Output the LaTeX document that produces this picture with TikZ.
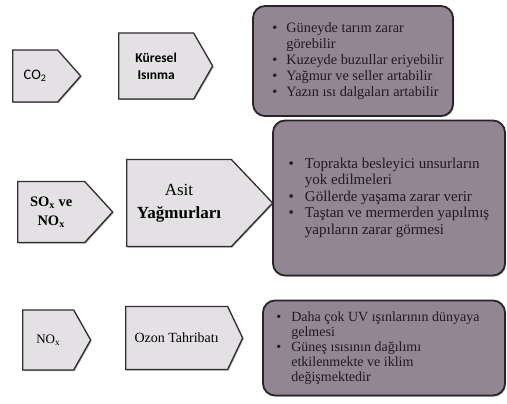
\documentclass[tikz,border=0pt]{standalone}
\usepackage{fontspec}
\setmainfont{Liberation Serif}
\newfontfamily\calib{Carlito}
\usepackage{tikz}
\usetikzlibrary{shapes.symbols,shadows}
\usepackage{xcolor}
\definecolor{tagFill}{RGB}{228,225,228}
\definecolor{tagLine}{RGB}{50,45,50}
\definecolor{noteFill}{RGB}{146,134,146}
\definecolor{noteLine}{RGB}{40,36,40}
\definecolor{noteText}{RGB}{30,26,30}

\tikzset{
  tag/.style={shape=signal, signal to=east, draw=tagLine, line width=1.3pt, fill=tagFill,
    inner sep=0pt, anchor=west, align=center, text=black,
    drop shadow={shadow xshift=1pt, shadow yshift=-1pt, fill=black!70}},
  note/.style={draw=noteLine, line width=1.8pt, fill=noteFill, rounded corners=12pt,
    inner sep=0pt, align=left, text=noteText,
    drop shadow={shadow xshift=1pt, shadow yshift=-1pt, fill=black!70}}
}
\newcommand{\madde}{\textbullet}

\begin{document}
\begin{tikzpicture}[x=1pt, y=-1pt]
        \useasboundingbox (0,0) rectangle (507,404);
        % sol: kaynaklar
        \node[tag, minimum width=68pt, minimum height=52pt, signal pointer angle=97, font=\calib\fontsize{14.5}{16}\selectfont] (co) at (12,76) {CO\textsubscript{2}};
        \node[tag, minimum width=95pt, minimum height=61pt, signal pointer angle=95, font=\bfseries\fontsize{14.5}{19}\selectfont] (sn) at (17,212) {SO\textsubscript{x} ve\\NO\textsubscript{x}};
        \node[tag, minimum width=68pt, minimum height=60pt, signal pointer angle=121, font=\fontsize{13}{15}\selectfont] (no) at (22,340) {NO\textsubscript{x}};
        % orta: sorunlar
        \node[tag, minimum width=94pt, minimum height=66pt, signal pointer angle=120, font=\calib\bfseries\fontsize{13.5}{17}\selectfont] (ki) at (118,66) {Küresel\\Isınma};
        \node[tag, minimum width=146pt, minimum height=87pt, signal pointer angle=93, font=\fontsize{17}{23}\selectfont] (ay) at (126,203) {Asit\\\textbf{Yağmurları}};
        \node[tag, minimum width=117pt, minimum height=63pt, signal pointer angle=129, font=\fontsize{14}{16}\selectfont] (ot) at (125,338) {Ozon Tahribatı};
        % sag: etkiler
        \node[note, minimum width=200pt, minimum height=110pt, font=\fontsize{14.3}{16}\selectfont] (kiNot) at (353,61) {%
          \begin{tabular}{@{\hspace{10pt}}l@{\hspace{9pt}}l@{}}
            \madde & Güneyde tarım zarar \\
                   & görebilir \\
            \madde & Kuzeyde buzullar eriyebilir \\
            \madde & Yağmur ve seller artabilir \\
            \madde & Yazın ısı dalgaları artabilir
          \end{tabular}};
        \node[note, minimum width=232pt, minimum height=155pt, font=\fontsize{15}{16.5}\selectfont] (ayNot) at (389,198) {%
          \begin{tabular}{@{}l@{\hspace{11pt}}l@{}}
            \madde & Toprakta besleyici unsurların \\
                   & yok edilmeleri \\
            \madde & Göllerde yaşama zarar verir \\
            \madde & Taştan ve mermerden yapılmış \\
                   & yapıların zarar görmesi
          \end{tabular}};
        \node[note, minimum width=242pt, minimum height=95pt, font=\fontsize{14}{15}\selectfont] (otNot) at (384,348) {%
          \begin{tabular}{@{}l@{\hspace{10pt}}l@{\hspace{12pt}}}
            \madde & Daha çok UV ışınlarının dünyaya \\
                   & gelmesi \\
            \madde & Güneş ısısının dağılımı \\
                   & etkilenmekte ve iklim \\
                   & değişmektedir
          \end{tabular}};
      \end{tikzpicture}
\end{document}
